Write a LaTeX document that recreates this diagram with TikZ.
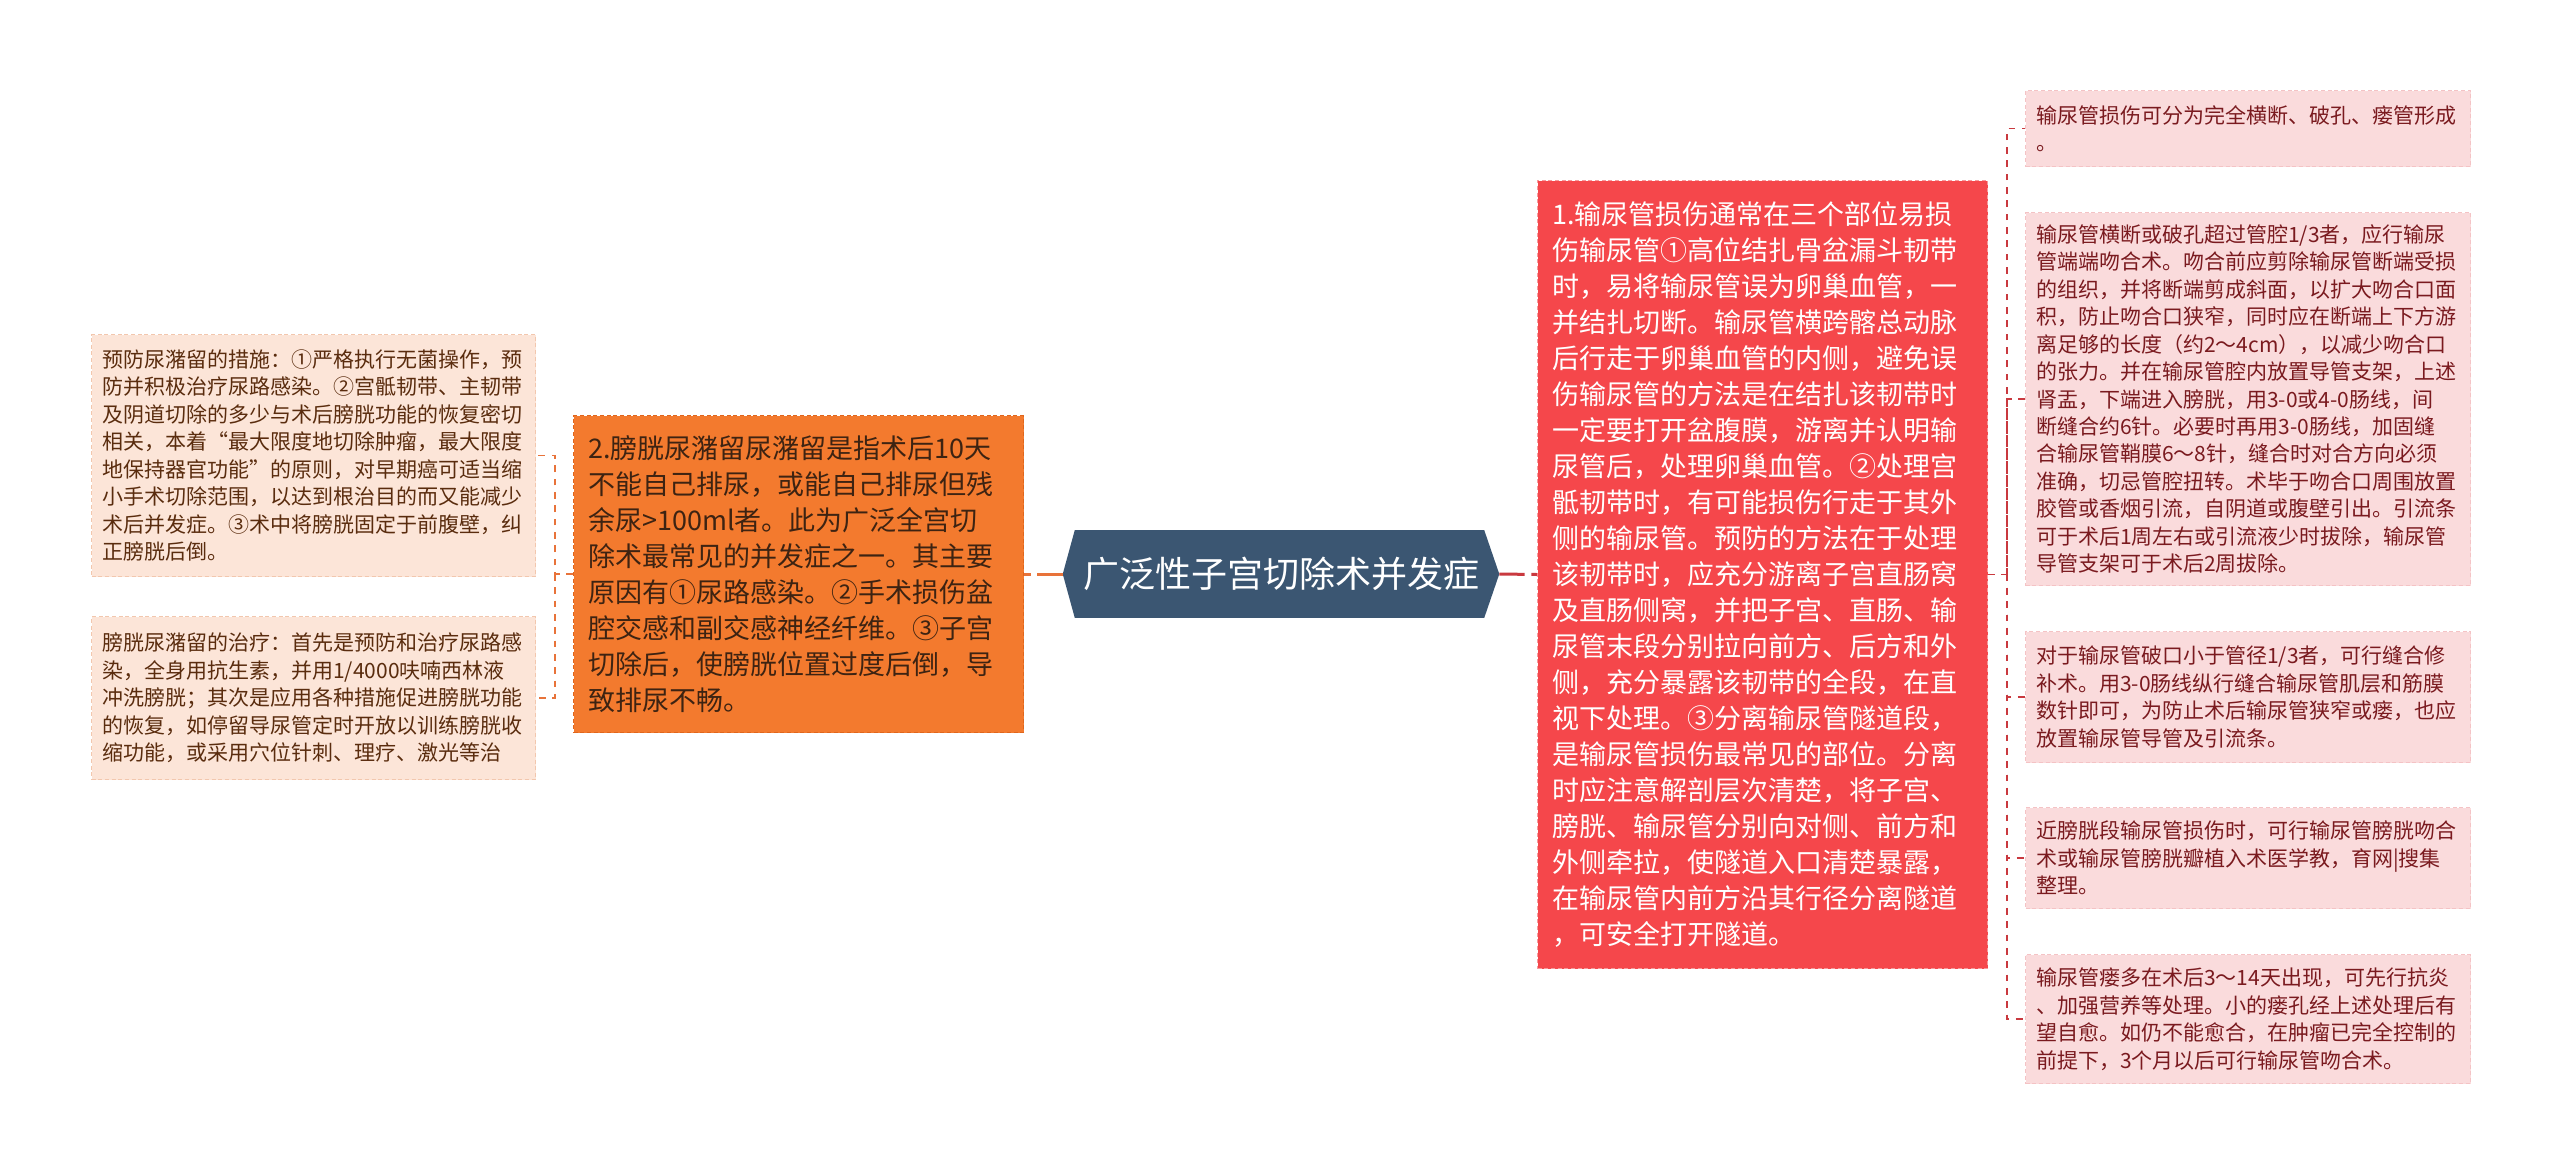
\documentclass[tikz,border=0pt]{standalone}
\usepackage{fontspec}
\setmainfont{Noto Sans CJK SC}
\usetikzlibrary{calc,backgrounds}
\definecolor{lfill}{HTML}{FCE5D8}
\definecolor{lborder}{HTML}{F2C7AE}
\definecolor{ltext}{HTML}{5A2C0E}
\definecolor{ofill}{HTML}{F37A2E}
\definecolor{oborder}{HTML}{E0661C}
\definecolor{otext}{HTML}{3D2312}
\definecolor{oline}{HTML}{E8733A}
\definecolor{hexfill}{HTML}{3B5672}
\definecolor{rfill}{HTML}{F5474B}
\definecolor{rborder}{HTML}{F79A9C}
\definecolor{rline}{HTML}{C9393F}
\definecolor{pfill}{HTML}{FADBDC}
\definecolor{pborder}{HTML}{F4C3C5}
\definecolor{ptext}{HTML}{7A1A1F}
\begin{document}
\begin{tikzpicture}[x=0.75pt,y=-0.75pt,
  box/.style={anchor=north west, align=left, inner ysep=0pt, line width=0.75pt, dash pattern=on 3pt off 2pt},
  smallbox/.style={box, inner xsep=8pt, font=\fontsize{15.75pt}{20.6pt}\selectfont},
  bigbox/.style={box, inner xsep=11pt, font=\fontsize{20.25pt}{27pt}\selectfont},
  lbox/.style={smallbox, fill=lfill, draw=lborder, text=ltext, text width=317pt},
  pbox/.style={smallbox, fill=pfill, draw=pborder, text=ptext, text width=317.75pt},
  obox/.style={bigbox, fill=ofill, draw=oborder, text=otext, text width=315.5pt},
  redbox/.style={bigbox, fill=rfill, draw=rborder, text=white, text width=315.5pt},
  mainline/.style={line width=2.25pt, dash pattern=on 19pt off 5pt},
  subline/.style={line width=1.4pt, dash pattern=on 5pt off 5pt}
]
\useasboundingbox (0,0) rectangle (2560,1175);

% root
\node[minimum width=327pt, minimum height=65.25pt, inner sep=0pt, text=white,
      font=\fontsize{27pt}{32pt}\selectfont] (root) at (1281,574) {广泛性子宫切除术并发症};
\begin{scope}[on background layer]
\fill[white] (0,0) rectangle (2560,1175);
\fill[hexfill] (root.west) -- ($(root.north west)+(12,0)$) -- ($(root.north east)+(-15,0)$)
  -- (root.east) -- ($(root.south east)+(-15,0)$) -- ($(root.south west)+(12,0)$) -- cycle;
\end{scope}

% left branch
\node[obox, minimum height=237.75pt] (or) at (573,415) {2.膀胱尿潴留尿潴留是指术后10天\\不能自己排尿，或能自己排尿但残\\余尿>100ml者。此为广泛全宫切\\除术最常见的并发症之一。其主要\\原因有①尿路感染。②手术损伤盆\\腔交感和副交感神经纤维。③子宫\\切除后，使膀胱位置过度后倒，导\\致排尿不畅。};

\node[lbox, minimum height=181.5pt] (l1) at (91,334) {预防尿潴留的措施：①严格执行无菌操作，预\\防并积极治疗尿路感染。②宫骶韧带、主韧带\\及阴道切除的多少与术后膀胱功能的恢复密切\\相关，本着“最大限度地切除肿瘤，最大限度\\地保持器官功能”的原则，对早期癌可适当缩\\小手术切除范围，以达到根治目的而又能减少\\术后并发症。③术中将膀胱固定于前腹壁，纠\\正膀胱后倒。};

\node[lbox, minimum height=122.25pt] (l2) at (91,616) {膀胱尿潴留的治疗：首先是预防和治疗尿路感\\染，全身用抗生素，并用1/4000呋喃西林液\\冲洗膀胱；其次是应用各种措施促进膀胱功能\\的恢复，如停留导尿管定时开放以训练膀胱收\\缩功能，或采用穴位针刺、理疗、激光等治};

% right branch
\node[redbox, minimum height=591pt] (red) at (1537,180) {1.输尿管损伤通常在三个部位易损\\伤输尿管①高位结扎骨盆漏斗韧带\\时，易将输尿管误为卵巢血管，一\\并结扎切断。输尿管横跨髂总动脉\\后行走于卵巢血管的内侧，避免误\\伤输尿管的方法是在结扎该韧带时\\一定要打开盆腹膜，游离并认明输\\尿管后，处理卵巢血管。②处理宫\\骶韧带时，有可能损伤行走于其外\\侧的输尿管。预防的方法在于处理\\该韧带时，应充分游离子宫直肠窝\\及直肠侧窝，并把子宫、直肠、输\\尿管末段分别拉向前方、后方和外\\侧，充分暴露该韧带的全段，在直\\视下处理。③分离输尿管隧道段，\\是输尿管损伤最常见的部位。分离\\时应注意解剖层次清楚，将子宫、\\膀胱、输尿管分别向对侧、前方和\\外侧牵拉，使隧道入口清楚暴露，\\在输尿管内前方沿其行径分离隧道\\，可安全打开隧道。};

\node[pbox, minimum height=57pt] (r1) at (2025,90) {输尿管损伤可分为完全横断、破孔、瘘管形成\\。};

\node[pbox, minimum height=279.75pt] (r2) at (2025,212) {输尿管横断或破孔超过管腔1/3者，应行输尿\\管端端吻合术。吻合前应剪除输尿管断端受损\\的组织，并将断端剪成斜面，以扩大吻合口面\\积，防止吻合口狭窄，同时应在断端上下方游\\离足够的长度（约2～4cm），以减少吻合口\\的张力。并在输尿管腔内放置导管支架，上述\\肾盂，下端进入膀胱，用3-0或4-0肠线，间\\断缝合约6针。必要时再用3-0肠线，加固缝\\合输尿管鞘膜6～8针，缝合时对合方向必须\\准确，切忌管腔扭转。术毕于吻合口周围放置\\胶管或香烟引流，自阴道或腹壁引出。引流条\\可于术后1周左右或引流液少时拔除，输尿管\\导管支架可于术后2周拔除。};

\node[pbox, minimum height=98.25pt] (r3) at (2025,631) {对于输尿管破口小于管径1/3者，可行缝合修\\补术。用3-0肠线纵行缝合输尿管肌层和筋膜\\数针即可，为防止术后输尿管狭窄或瘘，也应\\放置输尿管导管及引流条。};

\node[pbox, minimum height=75.75pt] (r4) at (2025,807) {近膀胱段输尿管损伤时，可行输尿管膀胱吻合\\术或输尿管膀胱瓣植入术医学教，育网|搜集\\整理。};

\node[pbox, minimum height=96.75pt] (r5) at (2025,954) {输尿管瘘多在术后3～14天出现，可先行抗炎\\、加强营养等处理。小的瘘孔经上述处理后有\\望自愈。如仍不能愈合，在肿瘤已完全控制的\\前提下，3个月以后可行输尿管吻合术。};

% connectors
\draw[mainline, oline] (root.west) -- (or.east);
\draw[mainline, rline] (root.east) -- (red.west);

\draw[subline, oline] (or.west) -- ++(-18,0) coordinate (ls) |- (l1.east);
\draw[subline, oline] (ls) |- (l2.east);

\draw[subline, rline] (red.east) -- ++(19,0) coordinate (rs) |- (r1.west);
\draw[subline, rline] (rs) |- (r2.west);
\draw[subline, rline] (rs) |- (r3.west);
\draw[subline, rline] (rs) |- (r4.west);
\draw[subline, rline] (rs) |- (r5.west);
\end{tikzpicture}
\end{document}
